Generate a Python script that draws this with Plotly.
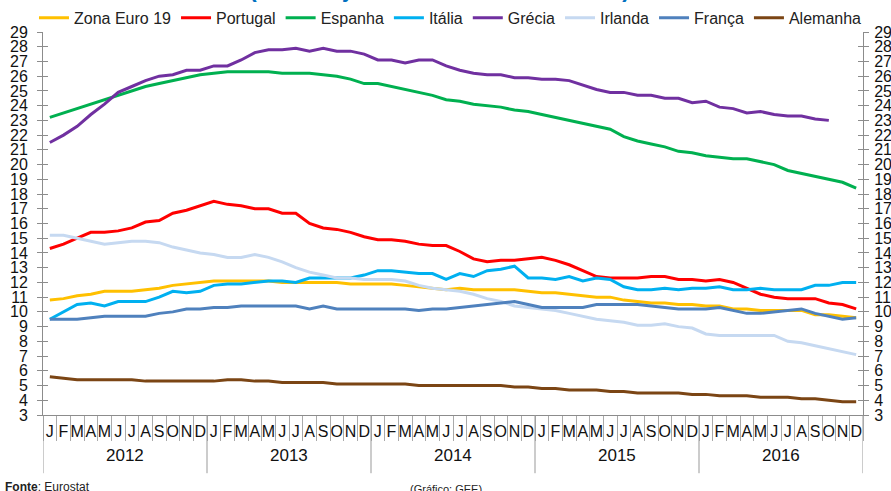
import plotly.graph_objects as go

years = ["2012", "2013", "2014", "2015", "2016"]
month_letters = ["J", "F", "M", "A", "M", "J", "J", "A", "S", "O", "N", "D"]

zona_euro = [10.8, 10.9, 11.1, 11.2, 11.4, 11.4, 11.4, 11.5, 11.6, 11.8, 11.9, 12.0,
             12.1, 12.1, 12.1, 12.1, 12.1, 12.0, 12.0, 12.0, 12.0, 12.0, 11.9, 11.9,
             11.9, 11.9, 11.8, 11.7, 11.6, 11.5, 11.6, 11.5, 11.5, 11.5, 11.5, 11.4,
             11.3, 11.3, 11.2, 11.1, 11.0, 11.0, 10.8, 10.7, 10.6, 10.6, 10.5, 10.5,
             10.4, 10.4, 10.2, 10.2, 10.1, 10.1, 10.1, 10.1, 9.8, 9.8, 9.7, 9.6]
portugal = [14.3, 14.6, 15.0, 15.4, 15.4, 15.5, 15.7, 16.1, 16.2, 16.7, 16.9, 17.2,
            17.5, 17.3, 17.2, 17.0, 17.0, 16.7, 16.7, 16.0, 15.7, 15.6, 15.4, 15.1,
            14.9, 14.9, 14.8, 14.6, 14.5, 14.5, 14.1, 13.6, 13.4, 13.5, 13.5, 13.6,
            13.7, 13.5, 13.2, 12.8, 12.4, 12.3, 12.3, 12.3, 12.4, 12.4, 12.2, 12.2,
            12.1, 12.2, 12.0, 11.6, 11.2, 11.0, 10.9, 10.9, 10.9, 10.6, 10.5, 10.2]
espanha = [23.2, 23.5, 23.8, 24.1, 24.4, 24.7, 25.0, 25.3, 25.5, 25.7, 25.9, 26.1,
           26.2, 26.3, 26.3, 26.3, 26.3, 26.2, 26.2, 26.2, 26.1, 26.0, 25.8, 25.5,
           25.5, 25.3, 25.1, 24.9, 24.7, 24.4, 24.3, 24.1, 24.0, 23.9, 23.7, 23.6,
           23.4, 23.2, 23.0, 22.8, 22.6, 22.4, 21.9, 21.6, 21.4, 21.2, 20.9, 20.8,
           20.6, 20.5, 20.4, 20.4, 20.2, 20.0, 19.6, 19.4, 19.2, 19.0, 18.8, 18.4]
italia = [9.5, 10.0, 10.5, 10.6, 10.4, 10.7, 10.7, 10.7, 11.0, 11.4, 11.3, 11.4,
          11.8, 11.9, 11.9, 12.0, 12.1, 12.1, 12.0, 12.3, 12.3, 12.3, 12.3, 12.5,
          12.8, 12.8, 12.7, 12.6, 12.6, 12.2, 12.6, 12.4, 12.8, 12.9, 13.1, 12.3,
          12.3, 12.2, 12.4, 12.1, 12.3, 12.2, 11.7, 11.5, 11.5, 11.6, 11.5, 11.6,
          11.6, 11.7, 11.5, 11.5, 11.6, 11.5, 11.5, 11.5, 11.8, 11.8, 12.0, 12.0]
grecia = [21.5, 22.0, 22.6, 23.4, 24.1, 24.9, 25.3, 25.7, 26.0, 26.1, 26.4, 26.4,
          26.7, 26.7, 27.1, 27.6, 27.8, 27.8, 27.9, 27.7, 27.9, 27.7, 27.7, 27.5,
          27.1, 27.1, 26.9, 27.1, 27.1, 26.7, 26.4, 26.2, 26.1, 26.1, 25.9, 25.9,
          25.8, 25.8, 25.7, 25.4, 25.1, 24.9, 24.9, 24.7, 24.7, 24.5, 24.5, 24.2,
          24.3, 23.9, 23.8, 23.5, 23.6, 23.4, 23.3, 23.3, 23.1, 23.0, None, None]
irlanda = [15.2, 15.2, 15.0, 14.8, 14.6, 14.7, 14.8, 14.8, 14.7, 14.4, 14.2, 14.0,
           13.9, 13.7, 13.7, 13.9, 13.7, 13.4, 13.0, 12.7, 12.5, 12.3, 12.3, 12.2,
           12.2, 12.2, 12.1, 11.8, 11.6, 11.5, 11.4, 11.2, 10.9, 10.7, 10.4, 10.3,
           10.2, 10.1, 9.9, 9.7, 9.5, 9.4, 9.3, 9.1, 9.1, 9.2, 9.0, 8.9,
           8.5, 8.4, 8.4, 8.4, 8.4, 8.4, 8.0, 7.9, 7.7, 7.5, 7.3, 7.1]
franca = [9.5, 9.5, 9.5, 9.6, 9.7, 9.7, 9.7, 9.7, 9.9, 10.0, 10.2, 10.2,
          10.3, 10.3, 10.4, 10.4, 10.4, 10.4, 10.4, 10.2, 10.4, 10.2, 10.2, 10.2,
          10.2, 10.2, 10.2, 10.1, 10.2, 10.2, 10.3, 10.4, 10.5, 10.6, 10.7, 10.5,
          10.3, 10.3, 10.3, 10.3, 10.5, 10.5, 10.5, 10.5, 10.4, 10.3, 10.2, 10.2,
          10.2, 10.3, 10.1, 9.9, 9.9, 10.0, 10.1, 10.2, 9.9, 9.7, 9.5, 9.6]
alemanha = [5.6, 5.5, 5.4, 5.4, 5.4, 5.4, 5.4, 5.3, 5.3, 5.3, 5.3, 5.3,
            5.3, 5.4, 5.4, 5.3, 5.3, 5.2, 5.2, 5.2, 5.2, 5.1, 5.1, 5.1,
            5.1, 5.1, 5.1, 5.0, 5.0, 5.0, 5.0, 5.0, 5.0, 5.0, 4.9, 4.9,
            4.8, 4.8, 4.7, 4.7, 4.7, 4.6, 4.6, 4.5, 4.5, 4.5, 4.5, 4.4,
            4.4, 4.3, 4.3, 4.3, 4.2, 4.2, 4.2, 4.1, 4.1, 4.0, 3.9, 3.9]

series = [
    ("Zona Euro 19", zona_euro, "#FFC000"),
    ("Portugal", portugal, "#FF0000"),
    ("Espanha", espanha, "#00B050"),
    ("Itália", italia, "#00B0F0"),
    ("Grécia", grecia, "#7030A0"),
    ("Irlanda", irlanda, "#C6D9F1"),
    ("França", franca, "#4F81BD"),
    ("Alemanha", alemanha, "#7B4514"),
]

n = len(zona_euro)
x = list(range(n))
month_text = [month_letters[i % 12] for i in range(n)]

FONT = "Arial, Liberation Sans, sans-serif"
AX = "#8c8c8c"

fig = go.Figure()
for name, vals, col in series:
    fig.add_trace(go.Scatter(x=x, y=vals, name=name, mode="lines",
                             line=dict(color=col, width=3), connectgaps=False))

yt = list(range(3, 30))
common_y = dict(range=[3, 29], tickvals=yt, showgrid=False, zeroline=False,
                showline=True, linecolor=AX, linewidth=1, tickcolor=AX, automargin=False)

fig.update_layout(
    width=891, height=491,
    margin=dict(l=43, r=28, t=32, b=76, autoexpand=False),
    paper_bgcolor="white", plot_bgcolor="white",
    font=dict(family=FONT, color="#111111"),
    showlegend=True,
    legend=dict(orientation="h", x=-0.011, xanchor="left", y=1.037, yanchor="middle",
                font=dict(size=16, family=FONT, color="#222222"),
                bgcolor="rgba(0,0,0,0)", itemwidth=30, tracegroupgap=0),
    xaxis=dict(range=[-0.5, n - 0.5], tickmode="array", tickvals=x, ticktext=month_text,
               ticks="", tickangle=0, showgrid=False, zeroline=False, showline=True,
               automargin=False,
               linecolor=AX, linewidth=1, tickfont=dict(size=16, family=FONT, color="#111111"),
               ticklabelstandoff=2,
               minor=dict(tickmode="array", tickvals=[i - 0.5 for i in range(n + 1)],
                          ticks="outside", ticklen=25, tickcolor="#aaaaaa", tickwidth=1)),
    yaxis=dict(**common_y, side="left", ticks="outside", ticklen=5,
               tickfont=dict(size=16, family=FONT, color="#111111"), ticklabelstandoff=6),
    yaxis2=dict(**common_y, side="right", overlaying="y", ticks="outside", ticklen=5,
                tickfont=dict(size=16, family=FONT, color="#111111"), ticklabelstandoff=2),
    yaxis3=dict(**common_y, side="left", overlaying="y", ticks="inside", ticklen=5,
                showticklabels=False),
    yaxis4=dict(**common_y, side="right", overlaying="y", ticks="inside", ticklen=5,
                showticklabels=False),
)

# invisible traces to bind the extra axes
for ya in ["y2", "y3", "y4"]:
    fig.add_trace(go.Scatter(x=[x[0]], y=[yt[0]], yaxis=ya, mode="markers",
                             marker=dict(opacity=0), showlegend=False, hoverinfo="skip"))

# year dividers and year labels
for k, yr in enumerate(years):
    fig.add_annotation(x=k * 12 + 5.5, xref="x", y=-0.105, yref="paper", text=yr,
                       showarrow=False, font=dict(size=17, family=FONT, color="#111111"),
                       yanchor="middle")
for k in range(len(years) + 1):
    fig.add_shape(type="line", xref="x", yref="paper", x0=k * 12 - 0.5, x1=k * 12 - 0.5,
                  y0=0, y1=-0.152, line=dict(color="#999999", width=1))

# partially visible title at the top
fig.add_annotation(x=0.484, xref="paper", y=1.112, yref="paper",
                   text="<b>(dados ajustados de sazonalidade)</b>", showarrow=False,
                   font=dict(size=23, family=FONT, color="#0070C0"), yanchor="middle")

# footer
fig.add_annotation(x=-0.049, xref="paper", y=-0.188, yref="paper", xanchor="left",
                   text="<b>Fonte</b>: Eurostat", showarrow=False,
                   font=dict(size=12, family=FONT, color="#222222"), yanchor="middle")
fig.add_annotation(x=0.445, xref="paper", y=-0.192, yref="paper", xanchor="left",
                   text="(Gráfico: GEE)", showarrow=False,
                   font=dict(size=11, family=FONT, color="#222222"), yanchor="middle")

fig.write_html("out.html", config={"displayModeBar": False},
               post_script="document.body.style.margin='0';")
